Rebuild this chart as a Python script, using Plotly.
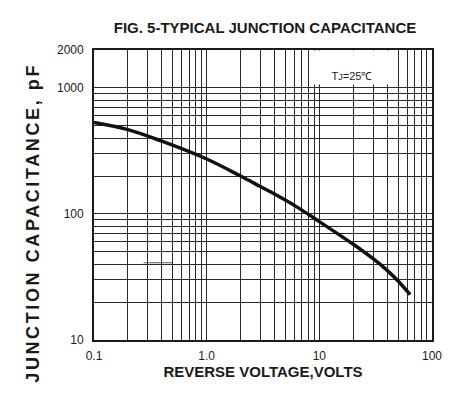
import plotly.graph_objects as go

# Data
voltage = [0.1, 0.2, 0.4, 1.0, 2.0, 3.0, 4.0, 6.0, 10, 20, 30, 40, 50, 64]
capacitance = [531, 467, 378, 273, 200, 165, 144, 117, 87, 57.5, 44.2, 35.7, 29.4, 22.9]

stray_x = [0.276, 0.496]
stray_y = [41, 41]

x_grid = [0.1, 0.2, 0.3, 0.4, 0.5, 0.6, 0.7, 0.8, 0.9,
          1, 2, 3, 4, 5, 6, 7, 8, 9,
          10, 20, 30, 40, 50, 60, 70, 80, 90, 100]
x_labels = {0.1: "0.1", 1: "1.0", 10: "10", 100: "100"}
y_grid = [10, 20, 30, 40, 50, 60, 70, 80, 90,
          100, 200, 300, 400, 500, 600, 700, 800, 900, 1000, 2000]
y_labels = {10: "10", 100: "100", 1000: "1000", 2000: "2000"}

FONT = "Liberation Sans, Arial, sans-serif"
INK = "#1a1a1a"

fig = go.Figure()
fig.add_trace(go.Scatter(
    x=voltage, y=capacitance, mode="lines",
    line=dict(color="#111111", width=3.5, shape="spline", smoothing=1.0),
    hoverinfo="skip", showlegend=False))
fig.add_trace(go.Scatter(
    x=stray_x, y=stray_y, mode="lines",
    line=dict(color="#555555", width=1),
    hoverinfo="skip", showlegend=False))

fig.update_xaxes(
    type="log", range=[-1, 2],
    tickmode="array", tickvals=x_grid,
    ticktext=[x_labels.get(v, "") for v in x_grid],
    showgrid=True, gridcolor="#2a2a2a", gridwidth=1.4,
    showline=True, linecolor="#1a1a1a", linewidth=1.8, mirror=True,
    ticks="", zeroline=False, automargin=False, ticklabelstandoff=4,
    tickfont=dict(family=FONT, size=12, color=INK),
    title=dict(text="<b>REVERSE VOLTAGE,VOLTS</b>",
               font=dict(family=FONT, size=15, color=INK), standoff=4),
)
fig.update_yaxes(
    type="log", range=[1, 3.30103],
    tickmode="array", tickvals=y_grid,
    ticktext=[y_labels.get(v, "") for v in y_grid],
    showgrid=True, gridcolor="#2a2a2a", gridwidth=1.4,
    showline=True, linecolor="#1a1a1a", linewidth=1.8, mirror=True,
    ticks="", zeroline=False, automargin=False, ticklabelstandoff=6,
    tickfont=dict(family=FONT, size=12, color=INK),
)

# y-axis title placed as a rotated annotation (sits lower than plot centre in the reference)
fig.add_annotation(
    xref="paper", yref="paper", x=-0.183, y=0.405,
    xanchor="center", yanchor="middle", textangle=-90, showarrow=False,
    text="<span style='letter-spacing:2.6px'><b>JUNCTION CAPACITANCE, pF</b></span>",
    font=dict(family=FONT, size=18, color=INK),
)

fig.add_annotation(
    xref="paper", yref="paper", x=0.763, y=0.94,
    xanchor="center", yanchor="middle", valign="bottom",
    text="T<span style='font-size:9px'>J</span>=25℃",
    showarrow=False, bgcolor="white", width=72, height=29, borderpad=2,
    font=dict(family=FONT, size=11, color=INK),
)

fig.update_layout(
    width=465, height=398,
    margin=dict(l=94, r=33, t=50, b=58),
    paper_bgcolor="white", plot_bgcolor="white",
    title=dict(text="<b>FIG. 5-TYPICAL JUNCTION CAPACITANCE</b>",
               x=0.570, xanchor="center", y=0.93, yanchor="middle",
               font=dict(family=FONT, size=15, color=INK)),
)

fig.write_html("out.html", config={"displayModeBar": False},
               post_script="document.body.style.margin='0';document.body.style.overflow='hidden';")
